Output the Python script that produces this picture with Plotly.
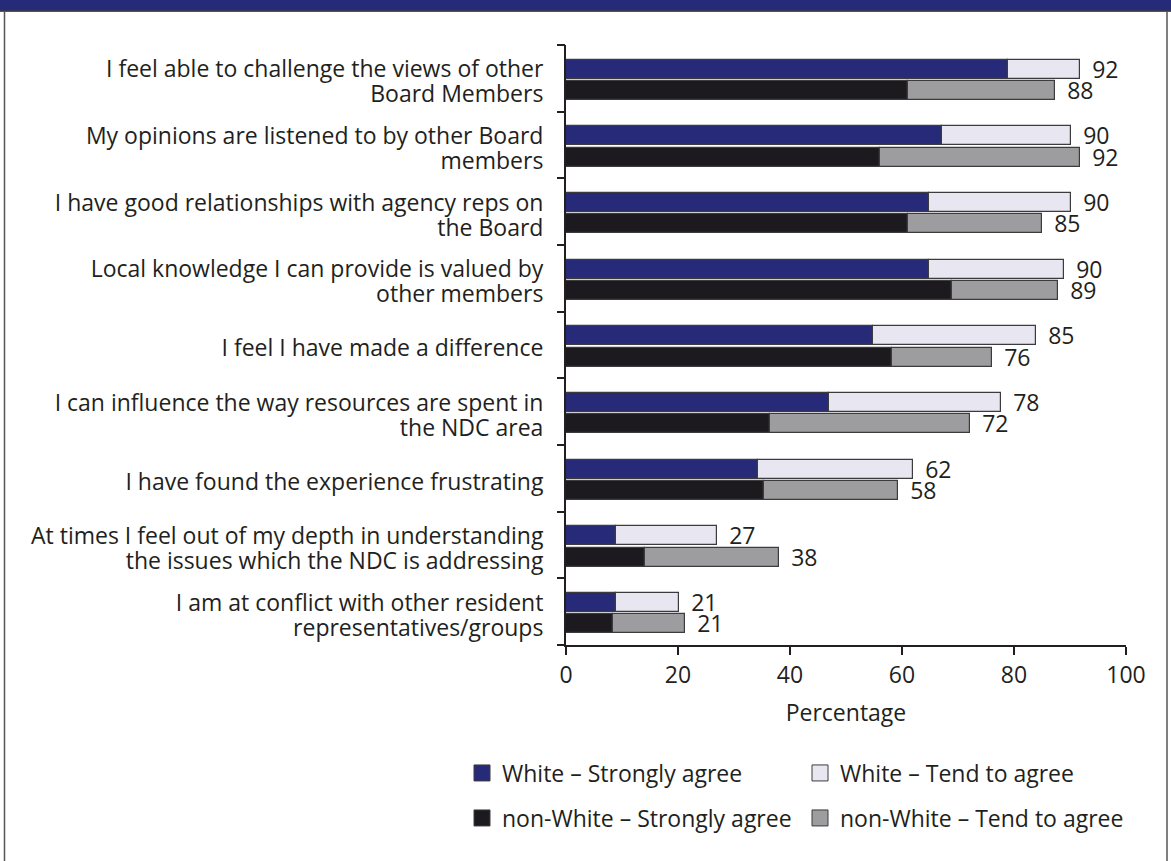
import plotly.graph_objects as go
import numpy as np

categories = [
    "I feel able to challenge the views of other<br>Board Members",
    "My opinions are listened to by other Board<br>members",
    "I have good relationships with agency reps on<br>the Board",
    "Local knowledge I can provide is valued by<br>other members",
    "I feel I have made a difference",
    "I can influence the way resources are spent in<br>the NDC area",
    "I have found the experience frustrating",
    "At times I feel out of my depth in understanding<br>the issues which the NDC is addressing",
    "I am at conflict with other resident<br>representatives/groups",
]

white_strong = [78.9, 67.2, 64.9, 64.9, 54.8, 47.0, 34.2, 8.9, 8.9]
white_tend = [12.8, 22.9, 25.2, 24.0, 29.1, 30.7, 27.8, 18.0, 11.2]
white_total_labels = [92, 90, 90, 90, 85, 78, 62, 27, 21]

nonwhite_strong = [61.1, 56.1, 61.1, 68.9, 58.3, 36.4, 35.3, 14.1, 8.4]
nonwhite_tend = [26.2, 35.6, 23.9, 18.9, 17.8, 35.7, 23.9, 24.0, 12.9]
nonwhite_total_labels = [88, 92, 85, 89, 76, 72, 58, 38, 21]

x_ticks = [0, 20, 40, 60, 80, 100]
legend_names = [
    "White – Strongly agree",
    "White – Tend to agree",
    "non-White – Strongly agree",
    "non-White – Tend to agree",
]

# styles
C_W_STRONG = "#262a78"
C_W_TEND = "#e7e6f1"
C_N_STRONG = "#1c1a1f"
C_N_TEND = "#9d9d9f"
C_LINE = "#3c3c3e"
C_TEXT = "#231f20"
FONT = "Open Sans"
FS = 23

W, H = 1171, 861
ML, MR, MT, MB = 566, 45, 45, 216
PW, PH = W - ML - MR, H - MT - MB


def px_x(px):
    return (px - ML) / PW


def px_y(py):
    return 1 - (py - MT) / PH


n = len(categories)
idx = np.arange(n)
y_white = idx - 0.14
y_non = idx + 0.18
BW = 0.285

# category label lines placed as y-axis tick labels
LINE_STEP = 0.375
LABEL_SHIFT = 0.05
tick_vals, tick_text = [], []
for i, lab in enumerate(categories):
    parts = lab.split("<br>")
    k = len(parts)
    for j, p in enumerate(parts):
        tick_vals.append(i + LABEL_SHIFT + (j - (k - 1) / 2) * LINE_STEP)
        tick_text.append(p)

fig = go.Figure()
bar_line = dict(color=C_LINE, width=1.2)
txtfont = dict(family=FONT, size=FS, color=C_TEXT)

fig.add_trace(go.Bar(x=white_strong, y=y_white, base=0, orientation="h", width=BW,
                     marker=dict(color=C_W_STRONG, line=bar_line), showlegend=False,
                     hoverinfo="skip"))
fig.add_trace(go.Bar(x=white_tend, y=y_white, base=white_strong, orientation="h", width=BW,
                     marker=dict(color=C_W_TEND, line=bar_line), showlegend=False,
                     text=[str(v) for v in white_total_labels],
                     texttemplate="\u00a0\u2009%{text}",
                     textposition="outside", constraintext="none", cliponaxis=False,
                     outsidetextfont=txtfont, hoverinfo="skip"))
fig.add_trace(go.Bar(x=nonwhite_strong, y=y_non, base=0, orientation="h", width=BW,
                     marker=dict(color=C_N_STRONG, line=bar_line), showlegend=False,
                     hoverinfo="skip"))
fig.add_trace(go.Bar(x=nonwhite_tend, y=y_non, base=nonwhite_strong, orientation="h", width=BW,
                     marker=dict(color=C_N_TEND, line=bar_line), showlegend=False,
                     text=[str(v) for v in nonwhite_total_labels],
                     texttemplate="\u00a0\u2009%{text}",
                     textposition="outside", constraintext="none", cliponaxis=False,
                     outsidetextfont=txtfont, hoverinfo="skip"))

# legend proxies
leg_colors = [C_W_STRONG, C_W_TEND, C_N_STRONG, C_N_TEND]
leg_ids = ["legend", "legend", "legend2", "legend2"]
for name, col, lid in zip(legend_names, leg_colors, leg_ids):
    fig.add_trace(go.Scatter(x=[None], y=[None], mode="markers", name=name, legend=lid,
                             marker=dict(symbol="square", size=16, color=col,
                                         line=dict(color=C_LINE, width=1)),
                             hoverinfo="skip"))

# boundary ticks axis
fig.add_trace(go.Scatter(x=[None], y=[None], yaxis="y2", showlegend=False, hoverinfo="skip"))

leg_common = dict(orientation="h", xanchor="left", yanchor="middle",
                  font=txtfont, entrywidth=293, itemsizing="trace",
                  bgcolor="rgba(0,0,0,0)")

shapes = [
    # top band
    dict(type="rect", xref="paper", yref="paper", x0=px_x(0), x1=px_x(W), y0=px_y(0), y1=px_y(10.5),
         fillcolor="#252a79", line=dict(width=0), layer="below"),
    dict(type="line", xref="paper", yref="paper", x0=px_x(0), x1=px_x(W), y0=px_y(11), y1=px_y(11),
         line=dict(color="#1a1a2a", width=1.5)),
    # frame
    dict(type="line", xref="paper", yref="paper", x0=px_x(4.5), x1=px_x(4.5), y0=px_y(11), y1=px_y(H),
         line=dict(color="#555555", width=1.5)),
    dict(type="line", xref="paper", yref="paper", x0=px_x(1167), x1=px_x(1167), y0=px_y(11), y1=px_y(H),
         line=dict(color="#555555", width=1.5)),
]

fig.update_layout(
    width=W, height=H,
    margin=dict(l=ML, r=MR, t=MT, b=MB),
    paper_bgcolor="white", plot_bgcolor="white",
    barmode="overlay", bargap=0,
    font=txtfont,
    xaxis=dict(range=[0, 100], tickvals=x_ticks, ticks="outside", ticklen=8, tickwidth=1.5,
               tickcolor=C_TEXT, showline=True, linecolor=C_TEXT, linewidth=2, showgrid=False,
               zeroline=False, tickfont=txtfont,
               title=dict(text="Percentage", font=txtfont, standoff=16)),
    yaxis=dict(range=[n - 0.5, -0.5], tickmode="array", tickvals=tick_vals, ticktext=tick_text,
               ticks="", showline=True, linecolor=C_TEXT, linewidth=2, showgrid=False,
               zeroline=False, ticklabelstandoff=16, tickfont=txtfont),
    yaxis2=dict(range=[n - 0.5, -0.5], overlaying="y", side="left", anchor="x",
                tickmode="array", tickvals=list(idx - 0.5) + [n - 0.5], showticklabels=False,
                ticks="outside", ticklen=8, tickwidth=1.5, tickcolor=C_TEXT,
                showline=False, showgrid=False, zeroline=False),
    legend=dict(x=px_x(462), y=px_y(773), **leg_common),
    legend2=dict(x=px_x(462), y=px_y(818), **leg_common),
    shapes=shapes,
)

fig.write_html("out.html", config={"displayModeBar": False},
               post_script="document.body.style.margin='0';document.body.style.overflow='hidden';")
